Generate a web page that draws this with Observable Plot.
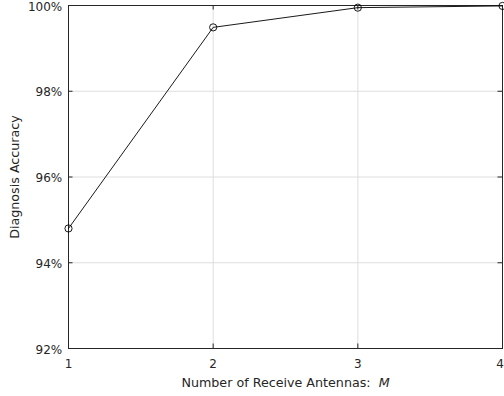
<!DOCTYPE html>
<html><head><meta charset="utf-8">
<script src="https://cdn.jsdelivr.net/npm/d3@7"></script>
<script src="https://cdn.jsdelivr.net/npm/@observablehq/plot@0.6"></script>
<style>body{margin:0;background:#fff} svg{display:block}</style>
</head><body><div id="chart"></div>
<script>
const antennas = [1, 2, 3, 4];
const accuracy = [94.80, 99.49, 99.95, 99.99];
const xTicks = [1, 2, 3, 4];
const yTicks = [92, 94, 96, 98, 100];
const xLabelText = "Number of Receive Antennas:  ";
const xLabelVar = "M";
const yLabelText = "Diagnosis Accuracy";

const data = antennas.map((m, i) => ({m, acc: accuracy[i]}));

const W = 504, H = 396, mL = 68, mR = 2, mT = 5, mB = 48;
const innerW = W - mL - mR, innerH = H - mT - mB;
const tickLen = 4.5;
const axisColor = "#262626";
const gridColor = "#dedede";
const font = "DejaVu Sans, Liberation Sans, Arial, sans-serif";

const svg = Plot.plot({
  width: W, height: H,
  marginLeft: mL, marginRight: mR, marginTop: mT, marginBottom: mB,
  style: {fontFamily: font, fontSize: "12px", color: axisColor, background: "#fff", overflow: "visible"},
  x: {domain: [1, 4], ticks: xTicks},
  y: {domain: [92, 100], ticks: yTicks},
  marks: [
    Plot.ruleX(xTicks.slice(1, -1), {stroke: gridColor, strokeWidth: 1}),
    Plot.ruleY(yTicks.slice(1, -1), {stroke: gridColor, strokeWidth: 1}),
    Plot.frame({stroke: axisColor, strokeWidth: 1}),
    Plot.tickY(yTicks, {y: d => d, stroke: axisColor, insetRight: innerW - tickLen}),
    Plot.tickY(yTicks, {y: d => d, stroke: axisColor, insetLeft: innerW - tickLen}),
    Plot.tickX(xTicks, {x: d => d, stroke: axisColor, insetTop: innerH - tickLen}),
    Plot.tickX(xTicks, {x: d => d, stroke: axisColor, insetBottom: innerH - tickLen}),
    Plot.axisY({ticks: yTicks, tickFormat: d => d + "%", tickSize: 0, tickPadding: 6.3, dy: 1.2, label: null, fontSize: 12, fill: axisColor}),
    Plot.axisX({ticks: xTicks.slice(0, -1), tickFormat: d => String(d), tickSize: 0, tickPadding: 11, label: null, fontSize: 12, fill: axisColor}),
    Plot.axisX({ticks: xTicks.slice(-1), tickFormat: d => String(d), tickSize: 0, tickPadding: 11, dx: -2.5, label: null, fontSize: 12, fill: axisColor}),
    Plot.text([yLabelText], {text: d => d, frameAnchor: "left", rotate: -90, dx: -49.7, textAnchor: "middle", lineAnchor: "bottom", fontSize: 12.7, fill: axisColor}),
    Plot.text([xLabelText + xLabelVar], {text: d => d, frameAnchor: "bottom", dy: 38.3, textAnchor: "middle", lineAnchor: "bottom", fontSize: 12.7, fill: axisColor}),
    Plot.line(data, {x: "m", y: "acc", stroke: "#000", strokeWidth: 0.9}),
    Plot.dot(data, {x: "m", y: "acc", r: 3.6, stroke: "#000", fill: "none", strokeWidth: 0.9})
  ]
});

const lbl = [...svg.querySelectorAll("text")].find(t => t.textContent === xLabelText + xLabelVar);
if (lbl) {
  let leaf = lbl;
  while (leaf.firstElementChild) leaf = leaf.firstElementChild;
  leaf.textContent = xLabelText;
  const ts = document.createElementNS("http://www.w3.org/2000/svg", "tspan");
  ts.setAttribute("font-style", "italic");
  ts.textContent = xLabelVar;
  leaf.appendChild(ts);
  lbl.setAttribute("style", "white-space:pre");
  lbl.setAttribute("xml:space", "preserve");
}

document.getElementById("chart").appendChild(svg);
</script>
</body></html>
